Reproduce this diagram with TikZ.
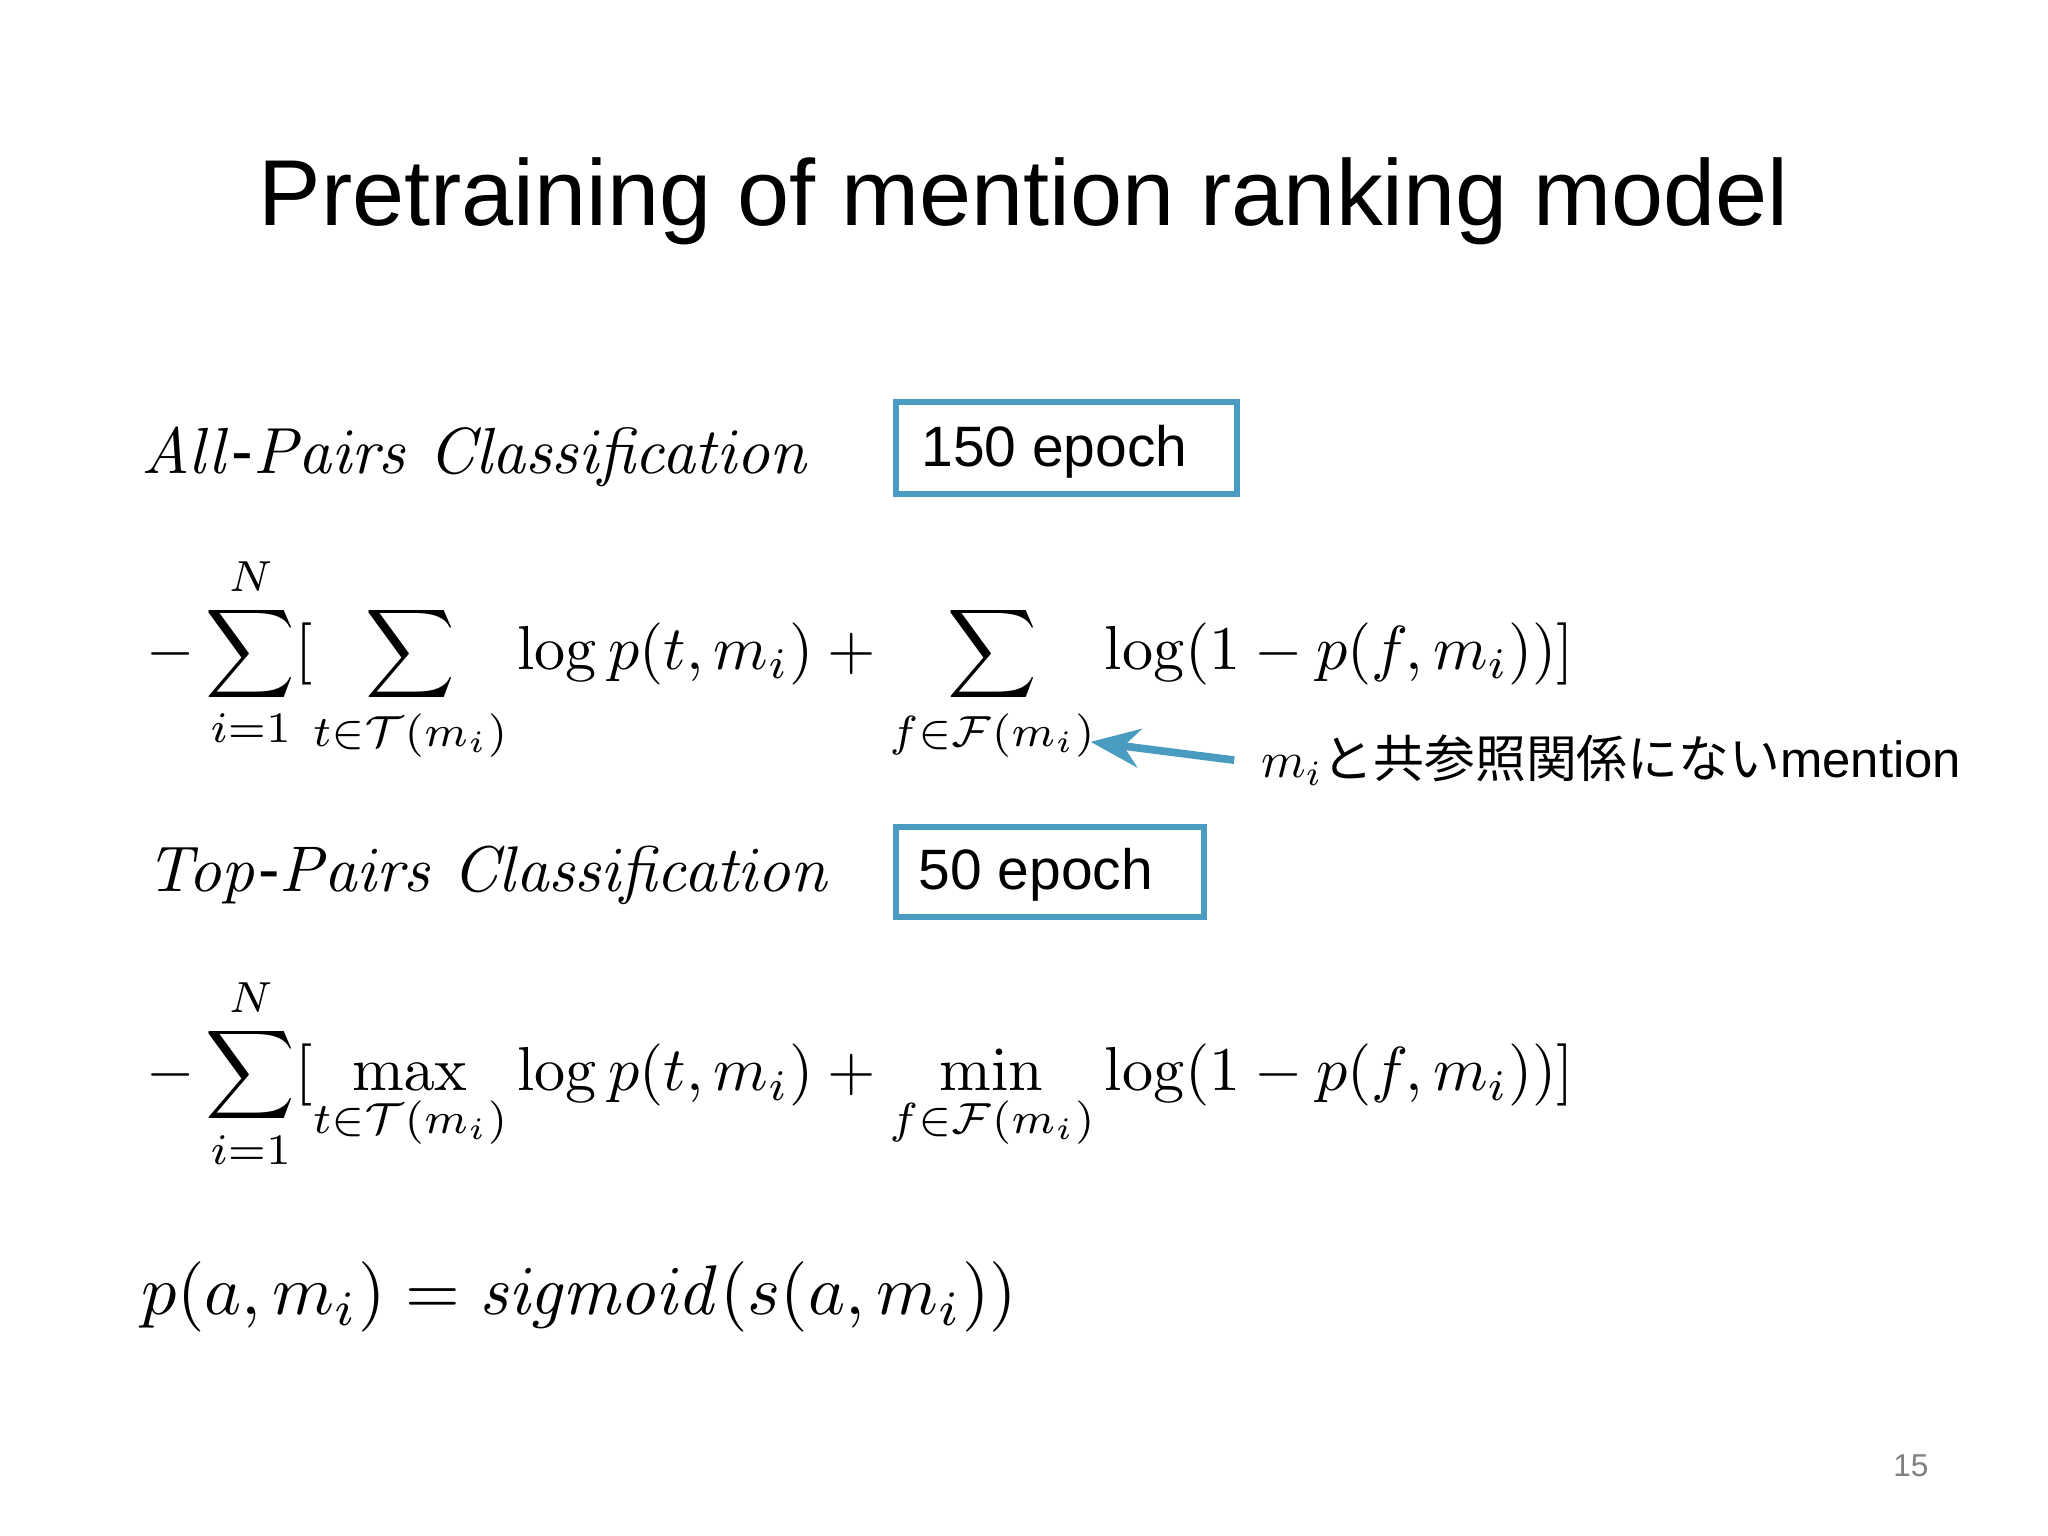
\documentclass[tikz,border=0pt]{standalone}
\usepackage{amsmath}
\usepackage[no-math]{fontspec}
\setmainfont{Liberation Sans}
\newfontfamily\cjk{Noto Sans CJK JP}
\usetikzlibrary{arrows.meta}
\definecolor{bx}{HTML}{4A9BC0}
\begin{document}
\begin{tikzpicture}[x=0.01306cm,y=-0.01306cm,
  lbl/.style={anchor=west,inner sep=0pt}]
\useasboundingbox (0,0) rectangle (1568,1176);
\node (title) at (784,154) {\resizebox{15.3cm}{!}{Pretraining of mention ranking model}};
\node[lbl] (ap) at (108,350) {\resizebox{6.7cm}{!}{$\mathit{All\text{-}Pairs\ Classification}$}};
\draw[bx,line width=1.6pt] (686,308) rectangle (947,378);
\node[lbl] (b1) at (705,346) {\fontsize{16.2}{20}\selectfont 150 epoch};
\node[lbl] (eq1) at (112,505) {\resizebox{14.27cm}{!}{$\displaystyle -\sum_{i=1}^{N}[\sum_{t\in\mathcal{T}(m_i)}\log p(t,m_i)+\sum_{f\in\mathcal{F}(m_i)}\log(1-p(f,m_i))]$}};
\coordinate (tip) at (835,568);
\node[lbl] (note) at (965,582) {\resizebox{7.0cm}{!}{$m_i$\cjk と共参照関係にない\rmfamily mention}};
\draw[bx,line width=2.2pt,-{Stealth[length=14pt,width=11pt]}] (945,582) -- (tip);
\node[lbl] (tp) at (112,670) {\resizebox{6.85cm}{!}{$\mathit{Top\text{-}Pairs\ Classification}$}};
\draw[bx,line width=1.6pt] (686,633) rectangle (922,702);
\node[lbl] (b2) at (703,670) {\fontsize{16.2}{20}\selectfont 50 epoch};
\node[lbl] (eq2) at (112,822) {\resizebox{14.27cm}{!}{$\displaystyle -\sum_{i=1}^{N}[\max_{t\in\mathcal{T}(m_i)}\log p(t,m_i)+\min_{f\in\mathcal{F}(m_i)}\log(1-p(f,m_i))]$}};
\node[lbl] (sig) at (108,993) {\resizebox{8.75cm}{!}{$p(a,m_i)=\mathit{sigmoid}(s(a,m_i))$}};
\node[text=gray] (pg) at (1463,1122) {\fontsize{9}{10}\selectfont 15};
\end{tikzpicture}
\end{document}
